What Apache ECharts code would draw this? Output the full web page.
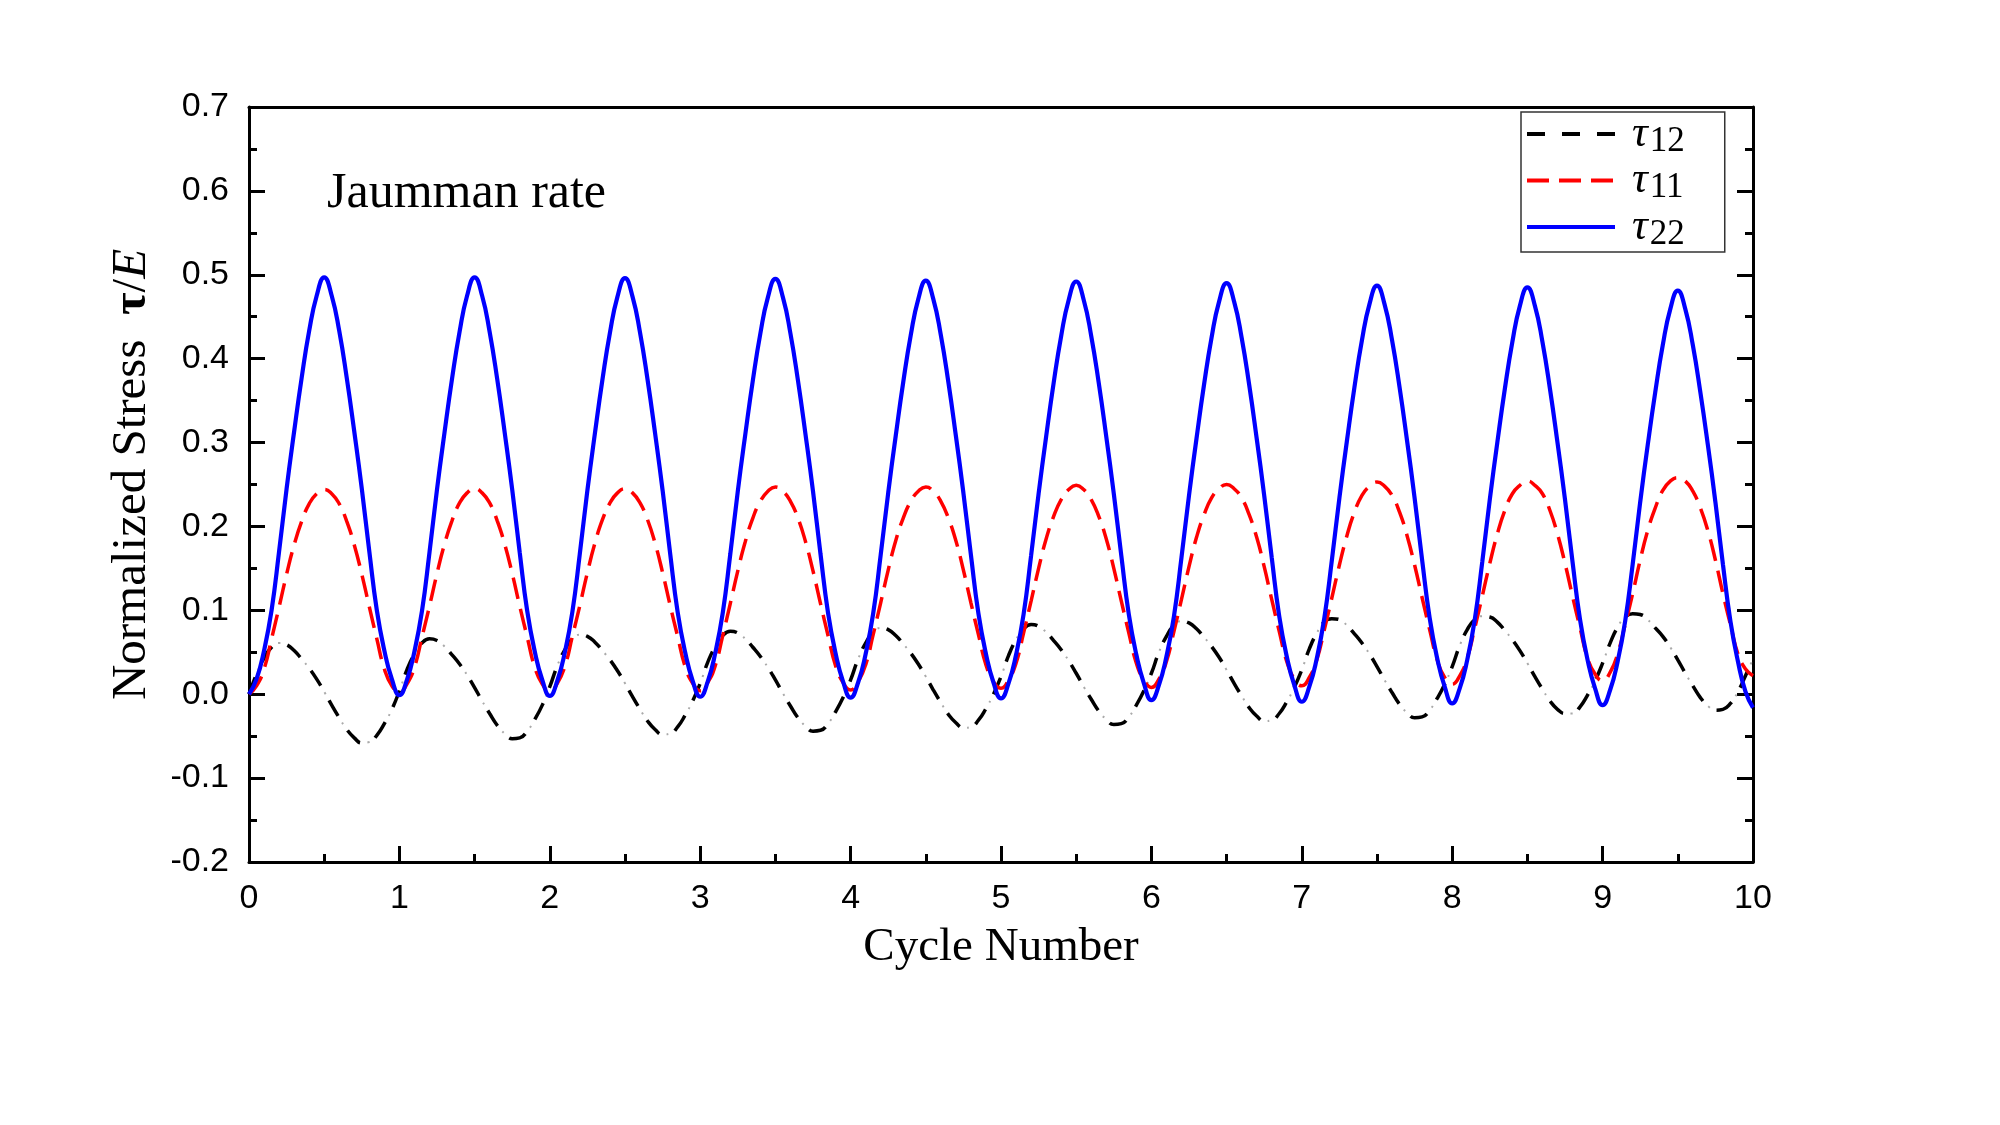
<!DOCTYPE html>
<html>
<head>
<meta charset="utf-8">
<title>Jaumman rate</title>
<script src="https://cdn.jsdelivr.net/npm/echarts@6/dist/echarts.min.js"></script>
<style>
    html, body { margin: 0; padding: 0; background: #fff; }
    #main { width: 2000px; height: 1125px; }
</style>
</head>
<body>
<div id="main"></div>
<script>
// cycle number, sampled every 0.05
const cycleT = [
    0, 0.05, 0.1, 0.15, 0.2, 0.25, 0.3, 0.35, 0.4, 0.45, 0.5, 0.55, 0.6, 0.65, 0.7, 0.75, 0.8, 0.85, 0.9, 0.95,
    1, 1.05, 1.1, 1.15, 1.2, 1.25, 1.3, 1.35, 1.4, 1.45, 1.5, 1.55, 1.6, 1.65, 1.7, 1.75, 1.8, 1.85, 1.9, 1.95,
    2, 2.05, 2.1, 2.15, 2.2, 2.25, 2.3, 2.35, 2.4, 2.45, 2.5, 2.55, 2.6, 2.65, 2.7, 2.75, 2.8, 2.85, 2.9, 2.95,
    3, 3.05, 3.1, 3.15, 3.2, 3.25, 3.3, 3.35, 3.4, 3.45, 3.5, 3.55, 3.6, 3.65, 3.7, 3.75, 3.8, 3.85, 3.9, 3.95,
    4, 4.05, 4.1, 4.15, 4.2, 4.25, 4.3, 4.35, 4.4, 4.45, 4.5, 4.55, 4.6, 4.65, 4.7, 4.75, 4.8, 4.85, 4.9, 4.95,
    5, 5.05, 5.1, 5.15, 5.2, 5.25, 5.3, 5.35, 5.4, 5.45, 5.5, 5.55, 5.6, 5.65, 5.7, 5.75, 5.8, 5.85, 5.9, 5.95,
    6, 6.05, 6.1, 6.15, 6.2, 6.25, 6.3, 6.35, 6.4, 6.45, 6.5, 6.55, 6.6, 6.65, 6.7, 6.75, 6.8, 6.85, 6.9, 6.95,
    7, 7.05, 7.1, 7.15, 7.2, 7.25, 7.3, 7.35, 7.4, 7.45, 7.5, 7.55, 7.6, 7.65, 7.7, 7.75, 7.8, 7.85, 7.9, 7.95,
    8, 8.05, 8.1, 8.15, 8.2, 8.25, 8.3, 8.35, 8.4, 8.45, 8.5, 8.55, 8.6, 8.65, 8.7, 8.75, 8.8, 8.85, 8.9, 8.95,
    9, 9.05, 9.1, 9.15, 9.2, 9.25, 9.3, 9.35, 9.4, 9.45, 9.5, 9.55, 9.6, 9.65, 9.7, 9.75, 9.8, 9.85, 9.9, 9.95,
    10
];

// tau12 (black dash-dot)
const tau12 = [
    0, 0.024, 0.043, 0.056, 0.061, 0.059, 0.052, 0.042, 0.031, 0.018, 0.003, -0.013, -0.028, -0.042, -0.052, -0.058, -0.057, -0.049, -0.035, -0.018,
    0.004, 0.029, 0.048, 0.061, 0.066, 0.064, 0.057, 0.047, 0.036, 0.023, 0.008, -0.008, -0.023, -0.037, -0.047, -0.053, -0.052, -0.044, -0.03, -0.013,
    0.009, 0.034, 0.053, 0.066, 0.071, 0.069, 0.062, 0.052, 0.041, 0.028, 0.013, -0.003, -0.018, -0.032, -0.042, -0.048, -0.047, -0.039, -0.025, -0.008,
    0.013, 0.038, 0.057, 0.07, 0.075, 0.073, 0.066, 0.056, 0.045, 0.032, 0.017, 0.001, -0.014, -0.028, -0.038, -0.044, -0.043, -0.035, -0.021, -0.004,
    0.017, 0.042, 0.061, 0.074, 0.079, 0.077, 0.07, 0.06, 0.049, 0.036, 0.021, 0.005, -0.01, -0.024, -0.034, -0.04, -0.039, -0.031, -0.017, 0,
    0.021, 0.046, 0.065, 0.078, 0.083, 0.081, 0.074, 0.064, 0.053, 0.04, 0.025, 0.009, -0.006, -0.02, -0.03, -0.036, -0.035, -0.027, -0.013, 0.004,
    0.025, 0.05, 0.069, 0.082, 0.087, 0.085, 0.078, 0.068, 0.057, 0.044, 0.029, 0.013, -0.002, -0.016, -0.026, -0.032, -0.031, -0.023, -0.009, 0.008,
    0.029, 0.054, 0.073, 0.086, 0.09, 0.089, 0.082, 0.072, 0.061, 0.048, 0.033, 0.017, 0.002, -0.012, -0.022, -0.028, -0.027, -0.019, -0.005, 0.012,
    0.033, 0.058, 0.077, 0.089, 0.093, 0.092, 0.086, 0.076, 0.065, 0.052, 0.037, 0.021, 0.006, -0.008, -0.018, -0.023, -0.023, -0.015, -0.001, 0.016,
    0.037, 0.061, 0.08, 0.092, 0.096, 0.095, 0.089, 0.079, 0.069, 0.056, 0.041, 0.025, 0.01, -0.004, -0.014, -0.019, -0.018, -0.011, 0.003, 0.022,
    0.042
];

// tau11 (red dashed)
const tau11 = [
    0, 0.01, 0.03, 0.066, 0.104, 0.143, 0.178, 0.206, 0.227, 0.239, 0.244, 0.239, 0.227, 0.206, 0.178, 0.143, 0.104, 0.066, 0.03, 0.01,
    0.002, 0.012, 0.032, 0.068, 0.105, 0.144, 0.179, 0.207, 0.228, 0.24, 0.245, 0.24, 0.228, 0.207, 0.179, 0.144, 0.105, 0.068, 0.032, 0.012,
    0.003, 0.013, 0.033, 0.069, 0.106, 0.145, 0.18, 0.208, 0.228, 0.24, 0.245, 0.24, 0.228, 0.208, 0.18, 0.145, 0.106, 0.069, 0.033, 0.013,
    0.004, 0.014, 0.034, 0.07, 0.108, 0.147, 0.182, 0.21, 0.23, 0.242, 0.247, 0.242, 0.23, 0.21, 0.182, 0.147, 0.108, 0.07, 0.034, 0.014,
    0.005, 0.015, 0.035, 0.071, 0.109, 0.148, 0.183, 0.21, 0.23, 0.242, 0.247, 0.242, 0.23, 0.21, 0.183, 0.148, 0.109, 0.071, 0.035, 0.015,
    0.007, 0.017, 0.037, 0.073, 0.111, 0.15, 0.185, 0.212, 0.232, 0.244, 0.249, 0.244, 0.232, 0.212, 0.185, 0.15, 0.111, 0.073, 0.037, 0.017,
    0.008, 0.018, 0.039, 0.075, 0.113, 0.152, 0.187, 0.214, 0.234, 0.245, 0.25, 0.245, 0.234, 0.214, 0.187, 0.152, 0.113, 0.075, 0.039, 0.018,
    0.01, 0.02, 0.041, 0.077, 0.115, 0.154, 0.189, 0.217, 0.237, 0.248, 0.253, 0.248, 0.237, 0.217, 0.189, 0.154, 0.115, 0.077, 0.041, 0.02,
    0.012, 0.022, 0.043, 0.079, 0.117, 0.156, 0.191, 0.219, 0.239, 0.249, 0.254, 0.249, 0.239, 0.219, 0.191, 0.156, 0.117, 0.079, 0.043, 0.024,
    0.016, 0.026, 0.048, 0.083, 0.12, 0.16, 0.195, 0.222, 0.243, 0.254, 0.258, 0.254, 0.242, 0.222, 0.195, 0.16, 0.12, 0.083, 0.048, 0.03,
    0.022
];

// tau22 (blue solid)
const tau22 = [
    0, 0.018, 0.052, 0.1, 0.17, 0.245, 0.313, 0.377, 0.433, 0.475, 0.497, 0.475, 0.433, 0.377, 0.313, 0.245, 0.17, 0.1, 0.052, 0.018,
    -0.001, 0.017, 0.051, 0.099, 0.169, 0.244, 0.312, 0.376, 0.432, 0.475, 0.497, 0.475, 0.432, 0.376, 0.312, 0.244, 0.169, 0.099, 0.051, 0.017,
    -0.002, 0.016, 0.05, 0.098, 0.168, 0.243, 0.311, 0.375, 0.431, 0.474, 0.496, 0.474, 0.431, 0.375, 0.311, 0.243, 0.168, 0.098, 0.05, 0.016,
    -0.003, 0.015, 0.049, 0.097, 0.167, 0.242, 0.31, 0.374, 0.43, 0.473, 0.495, 0.473, 0.43, 0.374, 0.31, 0.242, 0.167, 0.097, 0.049, 0.015,
    -0.004, 0.014, 0.048, 0.096, 0.166, 0.24, 0.308, 0.372, 0.428, 0.471, 0.493, 0.471, 0.428, 0.372, 0.308, 0.24, 0.166, 0.096, 0.048, 0.014,
    -0.005, 0.013, 0.047, 0.095, 0.165, 0.239, 0.307, 0.371, 0.427, 0.47, 0.492, 0.47, 0.427, 0.371, 0.307, 0.239, 0.165, 0.095, 0.047, 0.013,
    -0.007, 0.011, 0.045, 0.093, 0.163, 0.237, 0.305, 0.369, 0.425, 0.468, 0.49, 0.468, 0.425, 0.369, 0.305, 0.237, 0.163, 0.093, 0.045, 0.011,
    -0.009, 0.009, 0.043, 0.091, 0.16, 0.234, 0.302, 0.366, 0.422, 0.465, 0.487, 0.465, 0.422, 0.366, 0.302, 0.234, 0.16, 0.091, 0.043, 0.009,
    -0.011, 0.007, 0.041, 0.089, 0.158, 0.232, 0.3, 0.364, 0.42, 0.463, 0.485, 0.463, 0.42, 0.364, 0.3, 0.232, 0.158, 0.089, 0.041, 0.007,
    -0.013, 0.005, 0.039, 0.087, 0.155, 0.229, 0.297, 0.36, 0.416, 0.459, 0.481, 0.459, 0.416, 0.36, 0.297, 0.229, 0.155, 0.087, 0.039, 0.003,
    -0.016
];

const seriesNames = ['τ12', 'τ11', 'τ22'];

function StressChart(el) {
    this.el = el;
    this.init();
}

StressChart.serif = '"Liberation Serif", "Times New Roman", serif';
StressChart.sans = '"Liberation Sans", Arial, sans-serif';

StressChart.prototype = {
    init() {
        this.chart = echarts.init(this.el, null, {renderer: 'canvas'});
        this.chart.setOption(this.buildOption());
    },
    pairs(ys) {
        return cycleT.map((t, i) => [t, ys[i]]);
    },
    frameAxis(pos) {
        // top / right box lines
        return {
            type: 'value',
            position: pos,
            min: pos === 'top' ? 0 : -0.2,
            max: pos === 'top' ? 10 : 0.7,
            interval: pos === 'top' ? 1 : 0.1,
            axisLine: {show: true, onZero: false, lineStyle: {color: '#000', width: 3}},
            axisTick: {show: pos === 'right', inside: true, length: 16, lineStyle: {color: '#000', width: 3}},
            minorTick: {show: pos === 'right', splitNumber: 2, length: 8, lineStyle: {color: '#000', width: 3}},
            axisLabel: {show: false},
            splitLine: {show: false}
        };
    },
    buildOption() {
        let serif = StressChart.serif;
        let sans = StressChart.sans;
        return {
            animation: false,
            backgroundColor: '#fff',
            grid: {left: 249, top: 107, width: 1504, height: 755},
            legend: {
                data: seriesNames,
                orient: 'vertical',
                left: 1521,
                top: 112,
                itemWidth: 88,
                itemHeight: 14,
                itemGap: -0.5,
                padding: [0, 40, 0, 4],
                borderColor: '#333',
                borderWidth: 1.5,
                backgroundColor: '#fff',
                itemStyle: {opacity: 0},
                lineStyle: {width: 4},
                formatter: (name) => '{t|τ}{s|' + name.slice(1) + '}',
                textStyle: {
                    color: '#000',
                    rich: {
                        t: {fontFamily: serif, fontSize: 44, fontStyle: 'italic', lineHeight: 30, padding: [0, 2, 0, 12], color: '#000'},
                        // subscript: small inner box pushed down by top padding
                        s: {fontFamily: serif, fontSize: 35, height: 10, lineHeight: 30, padding: [15, 0, 0, 0], color: '#000'}
                    }
                }
            },
            graphic: [{
                type: 'text',
                x: 327,
                y: 194,
                style: {
                    text: 'Jaumman rate',
                    fontFamily: serif,
                    fontSize: 50,
                    fill: '#000',
                    verticalAlign: 'middle'
                }
            }],
            xAxis: [{
                type: 'value',
                position: 'bottom',
                min: 0,
                max: 10,
                interval: 1,
                name: 'Cycle Number',
                nameLocation: 'middle',
                nameGap: 62,
                nameTextStyle: {fontFamily: serif, fontSize: 47, color: '#000'},
                axisLine: {show: true, onZero: false, lineStyle: {color: '#000', width: 3}},
                axisTick: {inside: true, length: 16, lineStyle: {color: '#000', width: 3}},
                minorTick: {show: true, splitNumber: 2, length: 8, lineStyle: {color: '#000', width: 3}},
                axisLabel: {margin: 20, fontFamily: sans, fontSize: 34, color: '#000'},
                splitLine: {show: false}
            }, this.frameAxis('top')],
            yAxis: [{
                type: 'value',
                position: 'left',
                min: -0.2,
                max: 0.7,
                interval: 0.1,
                name: '{n|Normalized Stress  }{b|τ}{n|/}{i|E}',
                nameLocation: 'middle',
                nameRotate: 90,
                nameGap: 92,
                nameTextStyle: {
                    padding: [0, 0, 0, 20],
                    rich: {
                        n: {fontFamily: serif, fontSize: 49, color: '#000'},
                        b: {fontFamily: serif, fontSize: 49, fontWeight: 'bold', color: '#000'},
                        i: {fontFamily: serif, fontSize: 49, fontStyle: 'italic', color: '#000'}
                    }
                },
                axisLine: {show: true, onZero: false, lineStyle: {color: '#000', width: 3}},
                axisTick: {inside: true, length: 16, lineStyle: {color: '#000', width: 3}},
                minorTick: {show: true, splitNumber: 2, length: 8, lineStyle: {color: '#000', width: 3}},
                axisLabel: {
                    margin: 20,
                    fontFamily: sans,
                    fontSize: 34,
                    color: '#000',
                    formatter: (v) => Math.abs(v) < 1e-9 ? '0.0' : v.toFixed(1)
                },
                splitLine: {show: false}
            }, this.frameAxis('right')],
            series: [{
                name: 'τ12',
                type: 'line',
                data: this.pairs(tau12),
                smooth: true,
                symbol: 'none',
                z: 3,
                lineStyle: {color: '#000', width: 3.5, type: [18, 17]},
                itemStyle: {color: '#000'}
            }, {
                // faint dots between the black dashes
                name: 'τ12 dot',
                type: 'line',
                data: this.pairs(tau12),
                smooth: true,
                symbol: 'none',
                silent: true,
                z: 3,
                lineStyle: {color: '#aaa', width: 2, type: [2, 33], dashOffset: 9.5}
            }, {
                name: 'τ11',
                type: 'line',
                data: this.pairs(tau11),
                smooth: true,
                symbol: 'none',
                z: 4,
                lineStyle: {color: '#ff0000', width: 3.5, type: [22, 10]},
                itemStyle: {color: '#ff0000'}
            }, {
                name: 'τ22',
                type: 'line',
                data: this.pairs(tau22),
                smooth: true,
                symbol: 'none',
                z: 5,
                lineStyle: {color: '#0000ff', width: 4.2, type: 'solid'},
                itemStyle: {color: '#0000ff'}
            }]
        };
    }
};

new StressChart(document.getElementById('main'));
</script>
</body>
</html>
